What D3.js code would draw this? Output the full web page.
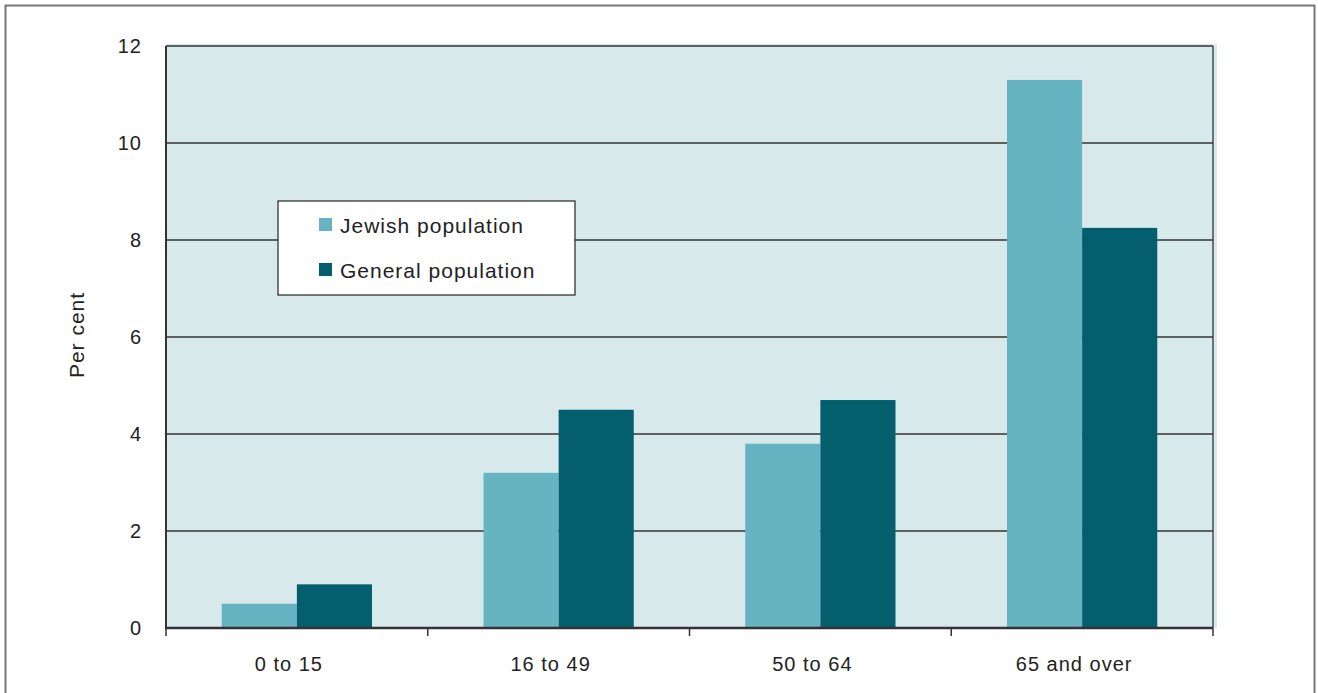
<!DOCTYPE html>
<html>
<head>
<meta charset="utf-8">
<script src="https://cdn.jsdelivr.net/npm/d3@7"></script>
<style>
  body { margin: 0; background: #fff; }
  text { font-family: "Liberation Sans", Arial, sans-serif; fill: #222; letter-spacing: 1px; }
</style>
</head>
<body>
<div id="chart"></div>
<script>
// Age groups and per cent values
const categories = ["0 to 15", "16 to 49", "50 to 64", "65 and over"];
const jewish = [0.5, 3.2, 3.8, 11.3];
const general = [0.9, 4.5, 4.7, 8.25];
const yTicks = [0, 2, 4, 6, 8, 10, 12];

const width = 1318;
const height = 693;
const margin = { top: 46, right: 105, bottom: 65, left: 166 };
const chartWidth = 1213 - margin.left;
const chartHeight = 628 - margin.top;

const svg = d3.select("#chart")
  .append("svg")
  .attr("width", width)
  .attr("height", height);

// outer frame
svg.append("rect")
  .attr("x", 5.5)
  .attr("y", 5.5)
  .attr("width", 1309)
  .attr("height", 700)
  .attr("fill", "none")
  .attr("stroke", "#777")
  .attr("stroke-width", 2);

const chart = svg.append("g")
  .attr("transform", `translate(${margin.left}, ${margin.top})`);

const xScale = d3.scaleBand()
  .domain(categories)
  .range([0, chartWidth]);

const yScale = d3.scaleLinear()
  .domain([0, 12])
  .range([chartHeight, 0]);

// plot background (bleeds a little past the frame, as in the original)
chart.append("rect")
  .attr("y", -2)
  .attr("width", chartWidth + 4)
  .attr("height", chartHeight + 2)
  .attr("fill", "#d8e9ec");

// grid lines
chart.append("g")
  .selectAll("line")
  .data(yTicks.filter(d => d > 0))
  .enter()
  .append("line")
  .attr("x1", 0)
  .attr("x2", chartWidth)
  .attr("y1", d => yScale(d))
  .attr("y2", d => yScale(d))
  .attr("stroke", "#333")
  .attr("stroke-width", 1.3);

// bars
const barW = xScale.bandwidth() * 0.287;
const series = [
  { values: jewish, color: "#66b3c1", offset: -barW },
  { values: general, color: "#035f6d", offset: 0 }
];

series.forEach(s => {
  chart.selectAll(null)
    .data(categories)
    .enter()
    .append("rect")
    .attr("x", d => xScale(d) + xScale.bandwidth() / 2 + s.offset)
    .attr("y", (d, i) => yScale(s.values[i]))
    .attr("width", barW)
    .attr("height", (d, i) => chartHeight - yScale(s.values[i]))
    .attr("fill", s.color);
});

// right border
chart.append("line")
  .attr("x1", chartWidth).attr("x2", chartWidth)
  .attr("y1", 0).attr("y2", chartHeight)
  .attr("stroke", "#333").attr("stroke-width", 1.3);

// left axis line
chart.append("line")
  .attr("x1", 0).attr("x2", 0)
  .attr("y1", 0).attr("y2", chartHeight)
  .attr("stroke", "#333").attr("stroke-width", 2);

// y tick labels
chart.selectAll(".ylab")
  .data(yTicks)
  .enter()
  .append("text")
  .attr("x", -24)
  .attr("y", d => yScale(d))
  .attr("dy", "0.36em")
  .attr("text-anchor", "end")
  .style("font-size", "20px")
  .text(d => d);

// x axis
const xAxis = chart.append("g")
  .attr("transform", `translate(0, ${chartHeight})`);

xAxis.append("line")
  .attr("x1", -1).attr("x2", chartWidth)
  .attr("stroke", "#333").attr("stroke-width", 2.5);

xAxis.selectAll(".xtick")
  .data(d3.range(categories.length + 1))
  .enter()
  .append("line")
  .attr("x1", i => i * xScale.step())
  .attr("x2", i => i * xScale.step())
  .attr("y1", 0).attr("y2", 8)
  .attr("stroke", "#333").attr("stroke-width", 1.5);

xAxis.selectAll(".xlab")
  .data(categories)
  .enter()
  .append("text")
  .attr("x", d => xScale(d) + xScale.bandwidth() / 2 - 8)
  .attr("y", 43)
  .attr("text-anchor", "middle")
  .style("font-size", "20px")
  .text(d => d);

// y axis label
svg.append("text")
  .attr("transform", "rotate(-90)")
  .attr("x", -335)
  .attr("y", 84)
  .attr("text-anchor", "middle")
  .style("font-size", "21px")
  .text("Per cent");

// legend
const legend = svg.append("g").attr("transform", "translate(278, 201)");
legend.append("rect")
  .attr("width", 297)
  .attr("height", 94)
  .attr("fill", "#fff")
  .attr("stroke", "#333")
  .attr("stroke-width", 1.3);

const legendItems = [
  { label: "Jewish population", color: "#66b3c1", y: 24 },
  { label: "General population", color: "#035f6d", y: 69 }
];
legendItems.forEach(l => {
  legend.append("rect")
    .attr("x", 41).attr("y", l.y - 7)
    .attr("width", 13).attr("height", 13)
    .attr("fill", l.color);
  legend.append("text")
    .attr("x", 62).attr("y", l.y)
    .attr("dy", "0.36em")
    .style("font-size", "21px")
    .text(l.label);
});
</script>
</body>
</html>
